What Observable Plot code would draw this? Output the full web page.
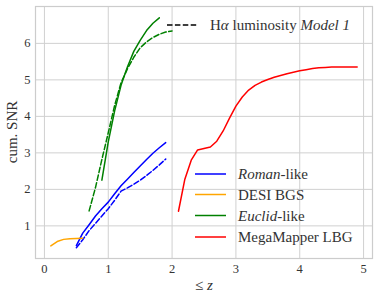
<!DOCTYPE html>
<html>
<head>
<meta charset="utf-8">
<script src="https://cdn.jsdelivr.net/npm/d3@7"></script>
<script src="https://cdn.jsdelivr.net/npm/@observablehq/plot@0.6"></script>
<style>
  html, body { margin: 0; padding: 0; background: #fff; }
  #chart svg { display: block; }
</style>
</head>
<body>
<div id="chart"></div>
<script>
// ---- data ----
const romanZ = [0.5,0.6,0.7,0.8,0.9,1.0,1.1,1.2,1.3,1.4,1.5,1.6,1.7,1.8,1.9];
const romanSolid = [0.46,0.80,1.03,1.27,1.47,1.65,1.88,2.10,2.28,2.46,2.64,2.82,2.99,3.14,3.28];
const romanDashed = [0.40,0.62,0.87,1.07,1.27,1.47,1.70,1.95,2.04,2.14,2.25,2.38,2.52,2.67,2.83];

const desiZ = [0.1,0.2,0.3,0.4,0.5,0.6];
const desiSolid = [0.45,0.57,0.63,0.65,0.655,0.66];

const euclidSolidZ = [0.9,1.0,1.1,1.2,1.3,1.4,1.5,1.6,1.7,1.8];
const euclidSolid = [2.25,3.30,4.15,4.85,5.35,5.78,6.08,6.35,6.55,6.70];
const euclidDashedZ = [0.7,0.8,0.9,1.0,1.1,1.2,1.3,1.4,1.5,1.6,1.7,1.8,1.9,2.0];
const euclidDashed = [1.41,2.05,2.82,3.55,4.30,4.92,5.30,5.62,5.88,6.04,6.16,6.25,6.31,6.34];

const mmZ = [2.1,2.2,2.3,2.4,2.5,2.6,2.7,2.8,2.9,3.0,3.1,3.2,3.3,3.4,3.5,3.6,3.7,3.8,3.9,4.0,4.1,4.2,4.3,4.4,4.5,4.6,4.7,4.8,4.9];
const mmSolid = [1.40,2.28,2.80,3.08,3.12,3.16,3.32,3.60,3.95,4.28,4.53,4.72,4.85,4.94,5.01,5.07,5.12,5.17,5.21,5.25,5.28,5.31,5.33,5.34,5.35,5.35,5.35,5.35,5.35];

const xTicks = [0,1,2,3,4,5];
const yTicks = [1,2,3,4,5,6];

const colors = {roman: "blue", desi: "orange", euclid: "green", mm: "red"};

function rows(zs, vs, series) {
  return zs.map((z, i) => ({z, v: vs[i], series}));
}
const solidData = [
  ...rows(romanZ, romanSolid, "roman"),
  ...rows(desiZ, desiSolid, "desi"),
  ...rows(euclidSolidZ, euclidSolid, "euclid"),
  ...rows(mmZ, mmSolid, "mm")
];
const dashedData = [
  ...rows(romanZ, romanDashed, "roman"),
  ...rows(euclidDashedZ, euclidDashed, "euclid")
];

const FONT = "'Liberation Serif', 'DejaVu Serif', serif";
const W = 379, H = 299;
const mL = 35, mR = 7, mT = 6, mB = 41;

const chart = Plot.plot({
  width: W, height: H,
  marginLeft: mL, marginRight: mR, marginTop: mT, marginBottom: mB,
  style: {fontFamily: FONT, fontSize: "12.5px", color: "#333", background: "#fff"},
  x: {domain: [-0.14, 5.14]},
  y: {domain: [0.106, 7.01]},
  marks: [
    Plot.gridX(xTicks, {stroke: "#d0d0d0", strokeOpacity: 1, strokeWidth: 1}),
    Plot.gridY(yTicks, {stroke: "#d0d0d0", strokeOpacity: 1, strokeWidth: 1}),
    Plot.frame({stroke: "#cccccc", strokeWidth: 1.2}),
    Plot.line(dashedData, {x: "z", y: "v", z: "series", stroke: d => colors[d.series], strokeWidth: 1.5, strokeDasharray: "5.5,2.4"}),
    Plot.line(solidData, {x: "z", y: "v", z: "series", stroke: d => colors[d.series], strokeWidth: 1.5}),
    Plot.axisX(xTicks, {tickSize: 0, tickPadding: 6, label: null, fill: "#333"}),
    Plot.axisY(yTicks, {tickSize: 0, tickPadding: 5, label: null, fill: "#333"})
  ]
});
document.getElementById("chart").appendChild(chart);

// ---- axis titles & legends ----
const svg = d3.select(chart);
const g = svg.append("g").attr("font-family", FONT).attr("fill", "#333").attr("text-anchor", "start");

g.append("text").attr("x", 204).attr("y", 290).attr("text-anchor", "middle").attr("font-size", 15)
  .html("≤ <tspan font-style='italic'>z</tspan>");
g.append("text").attr("transform", "translate(17,132) rotate(-90)").attr("text-anchor", "middle").attr("font-size", 15)
  .text("cum. SNR");

// upper legend (line style)
g.append("line").attr("x1", 167).attr("x2", 198).attr("y1", 25).attr("y2", 25)
  .attr("stroke", "black").attr("stroke-width", 1.5).attr("stroke-dasharray", "5.5,2.4");
g.append("text").attr("x", 210).attr("y", 30).attr("font-size", 15).attr("text-anchor", "start")
  .html("H<tspan font-style='italic'>α</tspan> luminosity <tspan font-style='italic'>Model 1</tspan>");

// lower legend (colors)
const leg = [
  {key: "roman", html: "<tspan font-style='italic'>Roman</tspan>-like", y: 174},
  {key: "desi", html: "DESI BGS", y: 194.5},
  {key: "euclid", html: "<tspan font-style='italic'>Euclid</tspan>-like", y: 215.5},
  {key: "mm", html: "MegaMapper LBG", y: 237}
];
leg.forEach(d => {
  g.append("line").attr("x1", 195).attr("x2", 226).attr("y1", d.y).attr("y2", d.y)
    .attr("stroke", colors[d.key]).attr("stroke-width", 1.5);
  g.append("text").attr("x", 238).attr("y", d.y + 5).attr("font-size", 15).attr("text-anchor", "start").html(d.html);
});
</script>
</body>
</html>
